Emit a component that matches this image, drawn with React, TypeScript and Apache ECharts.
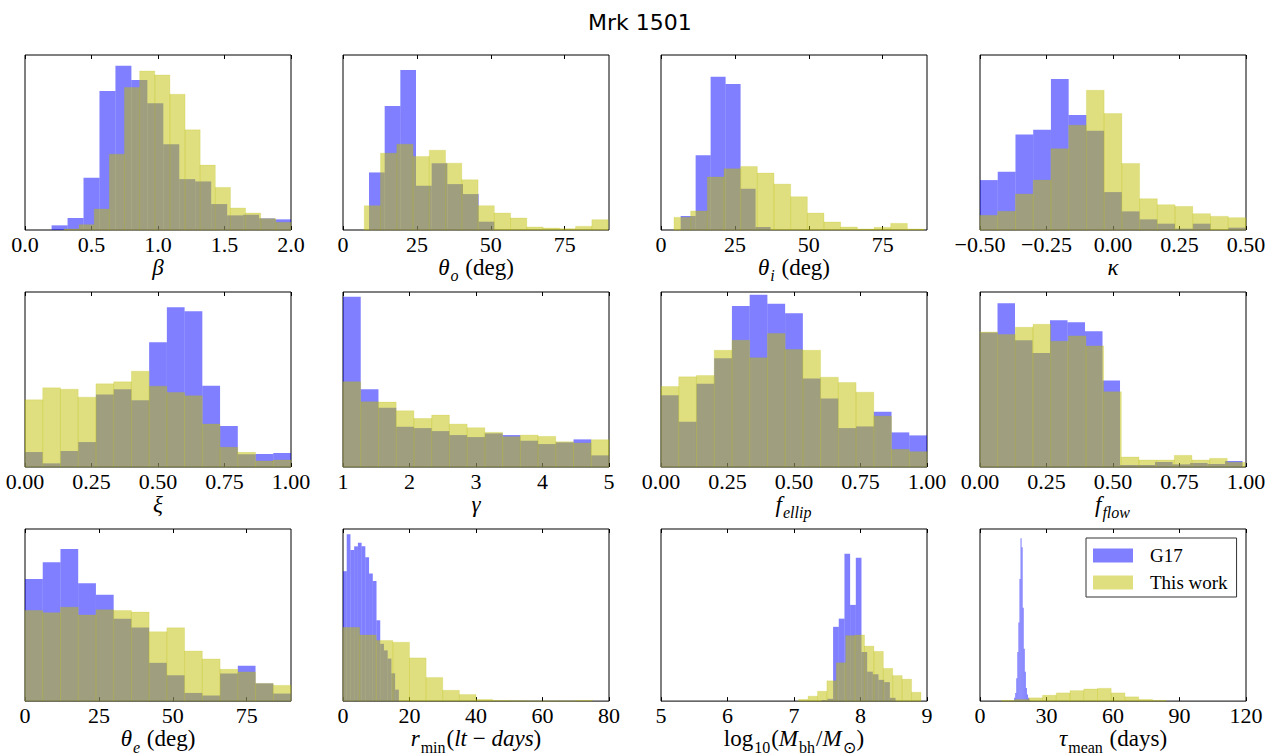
import React, { useEffect, useRef } from 'react';
import * as echarts from 'echarts';

// ---------- colours ----------
const BLUE = 'rgba(0,0,255,0.5)';
const YELLOW = 'rgba(191,191,0,0.5)';
const Y_MAX = 526; // histogram heights are read in the same units

// ---------- panel 1: beta ----------
const betaTicks = [0, 0.5, 1, 1.5, 2];
const betaLabels = ['0.0', '0.5', '1.0', '1.5', '2.0'];
const betaG17 = [14, 36, 157, 418, 494, 451, 381, 258, 153, 146, 78, 44, 46, 35, 32];
const betaThis = [3, 16, 63, 228, 428, 478, 466, 408, 301, 195, 128, 66, 51, 34, 23];

// ---------- panel 2: theta_o ----------
const degTicks = [0, 25, 50, 75];
const degLabels = ['0', '25', '50', '75'];
const thetaOG17 = [173, 373, 481, 133, 201, 138, 108, 25];
const thetaOThis = [73, 231, 258, 221, 240, 201, 151, 73, 51, 36, 9, 6, 4, 11, 31];

// ---------- panel 3: theta_i ----------
const thetaIG17 = [42, 225, 461, 439, 124, 9];
const thetaIThis = [38, 57, 159, 184, 191, 171, 138, 100, 51, 24, 9, 3, 8, 20, 3];

// ---------- panel 4: kappa ----------
const kappaTicks = [-0.5, -0.25, 0, 0.25, 0.5];
const kappaLabels = ['\u22120.50', '\u22120.25', '0.00', '0.25', '0.50'];
const kappaG17 = [150, 175, 287, 301, 454, 346, 298, 114, 56, 32, 19, 4, 19, 0, 7];
const kappaThis = [44, 56, 108, 150, 244, 315, 420, 350, 200, 94, 76, 71, 49, 41, 37];

// ---------- panel 5: xi ----------
const unitTicks = [0, 0.25, 0.5, 0.75, 1];
const unitLabels = ['0.00', '0.25', '0.50', '0.75', '1.00'];
const xiG17 = [45, 11, 48, 75, 218, 234, 201, 375, 480, 468, 244, 123, 38, 39, 42];
const xiThis = [202, 238, 234, 210, 250, 256, 288, 243, 224, 214, 129, 59, 44, 18, 21];

// ---------- panel 6: gamma ----------
const gammaTicks = [1, 2, 3, 4, 5];
const gammaLabels = ['1', '2', '3', '4', '5'];
const gammaG17 = [512, 234, 178, 121, 117, 108, 96, 90, 101, 96, 79, 69, 74, 83, 35];
const gammaThis = [256, 196, 195, 169, 146, 156, 129, 118, 104, 91, 96, 92, 76, 72, 82];

// ---------- panel 7: f_ellip ----------
const fEllipG17 = [216, 136, 250, 327, 484, 518, 491, 462, 266, 206, 117, 122, 166, 104, 95];
const fEllipThis = [242, 271, 275, 351, 381, 328, 401, 353, 351, 270, 254, 225, 153, 53, 46];

// ---------- panel 8: f_flow ----------
const fFlowG17 = [404, 492, 381, 343, 441, 435, 408, 260, 6, 6, 15, 8, 12, 9, 18];
const fFlowThis = [406, 398, 420, 429, 378, 394, 364, 226, 30, 21, 21, 35, 21, 26, 14];

// ---------- panel 9: theta_e ----------
const thetaEG17 = [373, 424, 465, 360, 325, 252, 225, 117, 79, 25, 17, 84, 108, 54, 23];
const thetaEThis = [277, 270, 287, 263, 279, 277, 272, 212, 224, 153, 129, 97, 89, 54, 48];

// ---------- panel 10: r_min ----------
const rminTicks = [0, 20, 40, 60, 80];
const rminLabels = ['0', '20', '40', '60', '80'];
const rminG17 = [397, 510, 462, 473, 484, 473, 440, 390, 367, 247, 175, 155, 130, 85, 35];
const rminThis = [225, 202, 185, 180, 132, 72, 33, 20, 5, 2, 1, 0, 0, 0, 2];

// ---------- panel 11: log10 Mbh ----------
const massTicks = [5, 6, 7, 8, 9];
const massLabels = ['5', '6', '7', '8', '9'];
const massG17 = [3, 7, 227, 252, 450, 294, 438, 150, 90, 82, 65, 58, 10];
const massThis = [5, 15, 30, 62, 117, 200, 202, 168, 152, 100, 78, 67, 27];

// ---------- panel 12: tau_mean ----------
const tauTicks = [0, 30, 60, 90, 120];
const tauLabels = ['0', '30', '60', '90', '120'];
const tauG17 = [10, 25, 70, 150, 240, 373, 498, 470, 285, 160, 90, 40, 20, 10, 5];
const tauThis = [2, 5, 10, 18, 25, 32, 37, 39, 25, 13, 5, 2];

// ---------- panel definitions (bin start / width in data units) ----------
const panels = [
  { min: 0, max: 2, ticks: betaTicks, labels: betaLabels, name: '{i|β}',
    g17: { start: 0.2, width: 0.12, counts: betaG17 }, tw: { start: 0.293, width: 0.1138, counts: betaThis } },
  { min: 0, max: 90, ticks: degTicks, labels: degLabels, name: '{i|θ}{s|o}{n| (deg)}',
    g17: { start: 8.8, width: 5.3, counts: thetaOG17 }, tw: { start: 7.2, width: 5.5, counts: thetaOThis } },
  { min: 0, max: 90, ticks: degTicks, labels: degLabels, name: '{i|θ}{s|i}{n| (deg)}',
    g17: { start: 6.65, width: 5.07, counts: thetaIG17 }, tw: { start: 4.4, width: 5.64, counts: thetaIThis } },
  { min: -0.5, max: 0.5, ticks: kappaTicks, labels: kappaLabels, name: '{i|κ}',
    g17: { start: -0.5, width: 1 / 15, counts: kappaG17 }, tw: { start: -0.5, width: 1 / 15, counts: kappaThis } },
  { min: 0, max: 1, ticks: unitTicks, labels: unitLabels, name: '{i|ξ}',
    g17: { start: 0, width: 1 / 15, counts: xiG17 }, tw: { start: 0, width: 1 / 15, counts: xiThis } },
  { min: 1, max: 5, ticks: gammaTicks, labels: gammaLabels, name: '{i|γ}',
    g17: { start: 1, width: 4 / 15, counts: gammaG17 }, tw: { start: 1, width: 4 / 15, counts: gammaThis } },
  { min: 0, max: 1, ticks: unitTicks, labels: unitLabels, name: '{i|f}{s|ellip}',
    g17: { start: 0, width: 1 / 15, counts: fEllipG17 }, tw: { start: 0, width: 1 / 15, counts: fEllipThis } },
  { min: 0, max: 1, ticks: unitTicks, labels: unitLabels, name: '{i|f}{s|flow}',
    g17: { start: 0, width: 0.0658, counts: fFlowG17 }, tw: { start: 0, width: 0.0664, counts: fFlowThis } },
  { min: 0, max: 90, ticks: degTicks, labels: degLabels, name: '{i|θ}{s|e}{n| (deg)}',
    g17: { start: 0, width: 6, counts: thetaEG17 }, tw: { start: 0, width: 6, counts: thetaEThis } },
  { min: 0, max: 80, ticks: rminTicks, labels: rminLabels, name: '{i|r}{sr|min}{n|(}{i|lt}{n| − }{i|days}{n|)}',
    g17: { start: 0, width: 1.12, counts: rminG17 }, tw: { start: 0, width: 5, counts: rminThis } },
  { min: 5, max: 9, ticks: massTicks, labels: massLabels, name: '{n|log}{sr|10}{n|(}{i|M}{sr|bh}{n|/}{i|M}{sr|⊙}{n|)}',
    g17: { start: 7.417, width: 0.0854, counts: massG17 }, tw: { start: 7.07, width: 0.1415, counts: massThis } },
  { min: 0, max: 120, ticks: tauTicks, labels: tauLabels, name: '{i|τ}{sr|mean}{n| (days)}',
    g17: { start: 15.4, width: 0.48, counts: tauG17 }, tw: { start: 9.6, width: 6.2, counts: tauThis } },
];

const SERIF = 'Liberation Serif';
const COL_LEFT = [25, 343, 661, 980];
const ROW_TOP = [55, 292, 529];
const PANEL_W = 266;
const PANEL_H = 175;

const toBins = (h: { start: number; width: number; counts: number[] }) =>
  h.counts.map((c, i) => [h.start + i * h.width, h.start + (i + 1) * h.width, c]);

const makeRender = (fill: string, stroke: string | null) => (params: any, api: any) => {
  const a = api.coord([api.value(0), api.value(2)]);
  const b = api.coord([api.value(1), 0]);
  const cs = params.coordSys;
  const shape = echarts.graphic.clipRectByRect(
    { x: a[0], y: a[1], width: b[0] - a[0], height: b[1] - a[1] },
    { x: cs.x, y: cs.y, width: cs.width, height: cs.height }
  );
  if (!shape) return null;
  const style: any = { fill };
  if (stroke) { style.stroke = stroke; style.lineWidth = 0.6; }
  return { type: 'rect', shape, style };
};

const nameRich = {
  i: { fontFamily: SERIF, fontStyle: 'italic', fontSize: 23, color: '#000', verticalAlign: 'bottom', padding: [0, 0, 5, 0] },
  n: { fontFamily: SERIF, fontSize: 23, color: '#000', verticalAlign: 'bottom', padding: [0, 0, 5, 0] },
  s: { fontFamily: SERIF, fontStyle: 'italic', fontSize: 16, color: '#000', verticalAlign: 'bottom', padding: [0, 1, 0, 1] },
  sr: { fontFamily: SERIF, fontSize: 16, color: '#000', verticalAlign: 'bottom', padding: [0, 1, 0, 1] },
};
const tickRich = {
  t: { fontFamily: SERIF, fontSize: 22, color: '#000' },
};

export default function App() {
  const ref = useRef<HTMLDivElement>(null);
  useEffect(() => {
    document.body.style.margin = '0';
    if (!ref.current) return;
    const chart = echarts.init(ref.current, undefined, { renderer: 'svg' });
    const grid: any[] = [];
    const xAxis: any[] = [];
    const yAxis: any[] = [];
    const series: any[] = [];
    panels.forEach((p, i) => {
      const r = Math.floor(i / 4);
      const c = i % 4;
      grid.push({
        left: COL_LEFT[c], top: ROW_TOP[r], width: PANEL_W, height: PANEL_H,
        show: true, borderColor: '#000', borderWidth: 1, backgroundColor: 'transparent',
      });
      const fmt = (v: number) => {
        const k = p.ticks.findIndex((t) => Math.abs(t - v) < 1e-9);
        return k >= 0 ? '{t|' + p.labels[k] + '}' : '';
      };
      xAxis.push({
        type: 'value', gridIndex: i, min: p.min, max: p.max, position: 'bottom',
        axisLine: { show: false }, splitLine: { show: false },
        axisTick: { show: true, inside: true, length: 4, customValues: p.ticks, lineStyle: { color: '#000' } },
        axisLabel: {
          show: true, customValues: p.ticks, formatter: fmt, margin: 3,
          color: '#000', fontFamily: SERIF, fontSize: 22, rich: tickRich,
        },
        name: p.name, nameLocation: 'middle', nameGap: 24,
        nameTextStyle: { rich: nameRich, fontFamily: SERIF, fontSize: 23, color: '#000' },
      });
      xAxis.push({
        type: 'value', gridIndex: i, min: p.min, max: p.max, position: 'top',
        axisLine: { show: false }, splitLine: { show: false },
        axisTick: { show: true, inside: true, length: 4, customValues: p.ticks, lineStyle: { color: '#000' } },
        axisLabel: { show: false },
      });
      yAxis.push({ type: 'value', gridIndex: i, min: 0, max: Y_MAX, show: false });
      series.push({
        type: 'custom', name: 'G17', xAxisIndex: 2 * i, yAxisIndex: i, z: 2,
        data: toBins(p.g17), encode: { x: [0, 1], y: 2 },
        itemStyle: { color: BLUE }, renderItem: makeRender(BLUE, null),
      });
      series.push({
        type: 'custom', name: 'This work', xAxisIndex: 2 * i, yAxisIndex: i, z: 3,
        data: toBins(p.tw), encode: { x: [0, 1], y: 2 },
        itemStyle: { color: YELLOW }, renderItem: makeRender(YELLOW, 'rgba(191,191,0,0.3)'),
      });
    });
    chart.setOption({
      animation: false,
      backgroundColor: '#fff',
      textStyle: { fontFamily: SERIF },
      title: {
        text: 'Mrk 1501', left: 583, top: 6,
        textStyle: { fontFamily: 'DejaVu Sans', fontSize: 22, fontWeight: 'normal', color: '#000' },
      },
      legend: {
        data: [
          { name: 'G17', icon: 'rect', itemStyle: { color: BLUE } },
          { name: 'This work', icon: 'rect', itemStyle: { color: YELLOW } },
        ],
        orient: 'vertical', left: 1086, top: 538, itemWidth: 40, itemHeight: 14, itemGap: 8,
        padding: [8, 9, 5, 7], borderColor: '#333', borderWidth: 1, backgroundColor: '#fff',
        selectedMode: false,
        textStyle: { fontFamily: SERIF, fontSize: 19, color: '#000', padding: [0, 0, 0, 12] },
      },
      grid, xAxis, yAxis, series,
    });
    return () => chart.dispose();
  }, []);
  return <div ref={ref} style={{ width: 1284, height: 756 }} />;
}
